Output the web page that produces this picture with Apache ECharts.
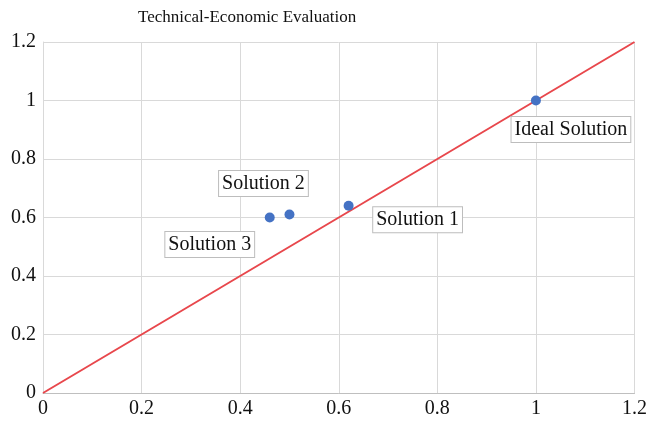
<!DOCTYPE html>
<html>
<head>
<meta charset="utf-8">
<script src="https://cdn.jsdelivr.net/npm/echarts@6/dist/echarts.min.js"></script>
<style>
  html, body { margin: 0; padding: 0; background: #fff; }
  #chart { width: 650px; height: 423px; }
</style>
</head>
<body>
<div id="chart"></div>
<script>
// data
var names = ['Solution 1', 'Solution 2', 'Solution 3', 'Ideal Solution'];
var xVals = [0.62, 0.50, 0.46, 1.0];
var yVals = [0.64, 0.61, 0.60, 1.0];
var refLine = [[0, 0], [1.2, 1.2]];

// label placement (layout only)
var labelOffsets = [[69, 14], [-26, -31], [-60, 27], [35, 29]];

var chart = echarts.init(document.getElementById('chart'));
var font = 'Liberation Serif';

var pts = names.map(function (n, i) {
    return {
        name: n,
        value: [xVals[i], yVals[i]],
        label: { offset: labelOffsets[i] }
    };
});

var option = {
    animation: false,
    title: {
        text: 'Technical-Economic Evaluation',
        left: 133,
        top: 4,
        textStyle: { fontFamily: font, fontSize: 17, fontWeight: 'normal', color: '#111' }
    },
    grid: { left: 43, right: 14, top: 42, bottom: 30 },
    xAxis: {
        type: 'value',
        min: 0, max: 1.2, interval: 0.2,
        axisLine: { lineStyle: { color: '#bfbfbf' } },
        axisTick: { show: false },
        splitLine: { lineStyle: { color: '#d9d9d9' } },
        axisLabel: {
            margin: 6,
            fontFamily: font, fontSize: 20, color: '#111',
            formatter: function (v) { return String(+v.toFixed(1)); }
        }
    },
    yAxis: {
        type: 'value',
        min: 0, max: 1.2, interval: 0.2,
        axisLine: { show: true, lineStyle: { color: '#d9d9d9' } },
        axisTick: { show: false },
        splitLine: { lineStyle: { color: '#d9d9d9' } },
        axisLabel: {
            margin: 7,
            fontFamily: font, fontSize: 20, color: '#111',
            formatter: function (v) { return String(+v.toFixed(1)); }
        }
    },
    series: [
        {
            type: 'line',
            data: refLine,
            symbol: 'none',
            lineStyle: { color: '#e8474c', width: 2 },
            z: 2
        },
        {
            type: 'scatter',
            data: pts,
            symbolSize: 10,
            itemStyle: { color: '#4472c4', opacity: 1 },
            z: 3,
            label: {
                show: true,
                position: 'inside',
                formatter: '{b}',
                fontFamily: font,
                fontSize: 20,
                color: '#111',
                backgroundColor: '#fff',
                borderColor: '#bdbdbd',
                borderWidth: 1,
                padding: [3, 3, 2, 3]
            }
        }
    ]
};

chart.setOption(option);
</script>
</body>
</html>
